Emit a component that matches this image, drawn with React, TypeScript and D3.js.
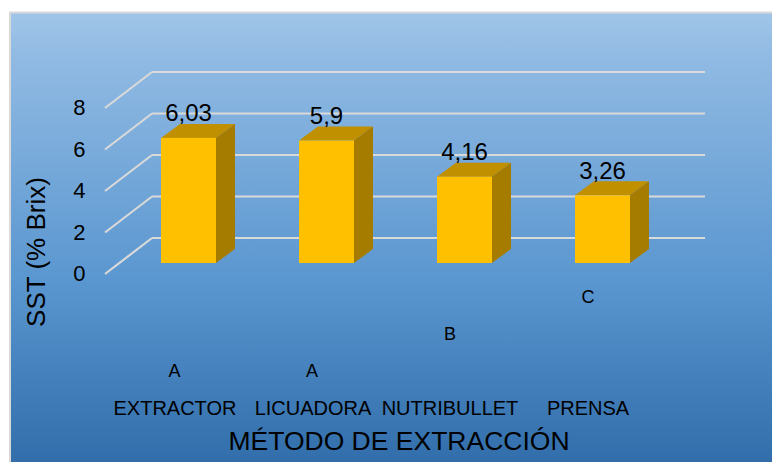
import React from "react";
import * as d3 from "d3";

const categories = ["EXTRACTOR", "LICUADORA", "NUTRIBULLET", "PRENSA"];
const values = [6.03, 5.9, 4.16, 3.26];
const valueLabels = ["6,03", "5,9", "4,16", "3,26"];
const groupLetters = ["A", "A", "B", "C"];
const yTicks = [0, 2, 4, 6, 8];

const W = 772;
const H = 462;
const FONT = "Liberation Sans, Arial, sans-serif";

// Where the group letters sit in the plot, per category.
const groupLetterY = [377, 377, 340, 303];
const groupLetterX = [174.5, 312, 450, 588];
const categoryLabelX = [175, 313, 450, 588];

// Floor depth of the 3D box and of the bars standing in it.
const wallDx = 47;
const wallDy = -36;
const barDx = 19;
const barDy = -14;

const barStep = 138;
const barWidth = 55;
const barBase = 263;

const wallY = d3.scaleLinear().domain([0, 8]).range([238, 72]);
const frontY = (v: number) => wallY(v) - wallDy;
const barHeight = (v: number) => wallY(0) - wallY(v);
const barCenter = d3
  .scaleLinear()
  .domain([0, categories.length - 1])
  .range([188.5, 188.5 + barStep * (categories.length - 1)]);

const line = d3.line();

export default function App() {
  return (
    <svg width={W} height={H} style={{ position: "absolute", left: 0, top: 0 }} fontFamily={FONT}>
      <defs>
        <linearGradient id="bg" x1="0" y1="0" x2="0" y2="1">
          <stop offset="0" stopColor="#a0c5e8" />
          <stop offset="0.1" stopColor="#90bae3" />
          <stop offset="0.57" stopColor="#5b97d0" />
          <stop offset="1" stopColor="#2e6ba8" />
        </linearGradient>
      </defs>
      <rect x={0} y={0} width={W} height={H} fill="#ffffff" />
      <rect x={10} y={12.5} width={W} height={H} fill="url(#bg)" stroke="#d9d9d9" strokeWidth={2} />

      {yTicks.map((t) => (
        <path
          key={t}
          d={line([[105 + wallDx, wallY(t)], [705, wallY(t)]]) ?? ""}
          stroke="#d9d9d9"
          strokeWidth={2.2}
          fill="none"
        />
      ))}
      {yTicks.map((t) => (
        <path
          key={`d${t}`}
          d={line([[105, frontY(t)], [105 + wallDx, wallY(t)]]) ?? ""}
          stroke="#d9d9d9"
          strokeWidth={2.2}
          fill="none"
        />
      ))}
      {yTicks.map((t) => (
        <text key={`l${t}`} x={85.5} y={frontY(t) + 7} fontSize={22} textAnchor="end" fill="#000">
          {t}
        </text>
      ))}

      {categories.map((c, i) => {
        const v = values[i];
        const cx = barCenter(i);
        const l = cx - barWidth / 2;
        const r = cx + barWidth / 2;
        const top = barBase - barHeight(v);
        return (
          <g key={c}>
            <path
              d={`${line([[l, top], [l + barDx, top + barDy], [r + barDx, top + barDy], [r, top]])}Z`}
              fill="#c09000"
            />
            <path
              d={`${line([[r, top], [r + barDx, top + barDy], [r + barDx, barBase + barDy], [r, barBase]])}Z`}
              fill="#a67c00"
            />
            <rect x={l} y={top} width={barWidth} height={barHeight(v)} fill="#ffc000" />
            <text x={cx} y={top - 16.5} fontSize={24} textAnchor="middle" fill="#000">
              {valueLabels[i]}
            </text>
            <text x={groupLetterX[i]} y={groupLetterY[i]} fontSize={18} textAnchor="middle" fill="#000">
              {groupLetters[i]}
            </text>
            <text x={categoryLabelX[i]} y={415} fontSize={20} textAnchor="middle" fill="#000">
              {c}
            </text>
          </g>
        );
      })}

      <text transform="translate(45,252) rotate(-90)" fontSize={26} textAnchor="middle" fill="#000">
        SST (% Brix)
      </text>
      <text x={399} y={449.5} fontSize={26.5} textAnchor="middle" fill="#000">
        MÉTODO DE EXTRACCIÓN
      </text>
    </svg>
  );
}
